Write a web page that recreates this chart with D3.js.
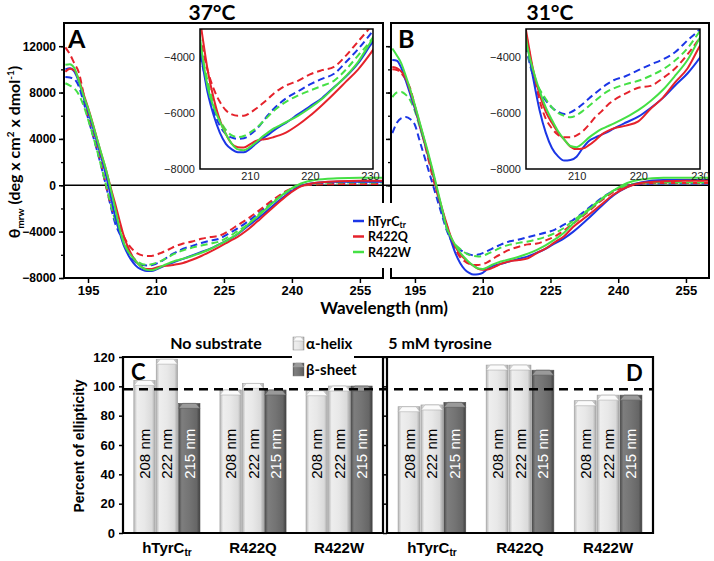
<!DOCTYPE html>
<html><head><meta charset="utf-8">
<script src="https://cdn.jsdelivr.net/npm/d3@7"></script>
<style>body{margin:0;background:#fff} svg{display:block}</style>
</head><body>
<svg id="c" width="714" height="561"></svg>
<script>
// ---------- DATA ----------
const wavelengths = [190,191,192,193,194,195,196,197,198,199,200,201,202,203,204,205,206,207,208,209,210,211,212,213,214,215,216,218,220,222,224,226,228,230,233,236,239,242,245,250,255,260];
// 37 °C (panel A)
const A_solid_hTyrC = [10000,10100,9800,8900,7600,6400,5100,3700,2300,800,-900,-2700,-4100,-5300,-6100,-6700,-7100,-7300,-7400,-7400,-7280,-7100,-6930,-6780,-6620,-6480,-6350,-6050,-5760,-5470,-5080,-4700,-4230,-3600,-2700,-1700,-750,-50,200,300,300,300];
const A_solid_R422Q = [9800,10050,9900,9100,7900,6700,5400,4000,2600,1300,-200,-1600,-3100,-4500,-5500,-6250,-6750,-7100,-7220,-7230,-7120,-7000,-6950,-6920,-6860,-6790,-6700,-6430,-6100,-5720,-5310,-4880,-4450,-3900,-2900,-1850,-850,-100,200,350,400,400];
const A_solid_R422W = [10400,10450,10100,9000,7750,6650,5350,4000,2650,1300,-300,-2000,-3800,-5100,-5800,-6300,-6750,-7100,-7300,-7330,-7220,-7050,-6860,-6700,-6550,-6440,-6330,-6100,-5820,-5500,-5100,-4680,-4180,-3500,-2500,-1450,-500,150,450,600,650,650];
const A_dashed_hTyrC = [9350,9300,9150,8500,7200,5800,4400,3000,1500,-100,-1800,-3300,-4200,-5100,-5950,-6450,-6750,-6880,-6920,-6900,-6780,-6600,-6350,-6080,-5850,-5650,-5480,-5230,-4980,-4780,-4600,-4180,-3720,-3200,-2300,-1350,-550,-50,100,150,150,150];
const A_dashed_R422Q = [11900,11300,10500,9700,7900,6000,4600,3200,1700,-100,-1600,-2800,-3600,-4500,-5150,-5600,-5900,-6050,-6100,-6100,-6000,-5850,-5680,-5500,-5300,-5150,-5020,-4850,-4620,-4470,-4350,-3950,-3450,-2950,-2100,-1200,-450,-50,50,100,100,100];
const A_dashed_R422W = [8800,8600,8350,7800,6900,5700,4400,3000,1500,0,-1600,-3000,-3900,-4900,-5700,-6250,-6600,-6800,-6860,-6820,-6700,-6550,-6350,-6130,-5920,-5750,-5600,-5380,-5200,-5030,-4850,-4450,-3950,-3450,-2400,-1400,-550,-50,150,250,250,250];
// 31 °C (panel B)
const B_solid_hTyrC = [10800,10750,10100,9000,7800,6600,5300,3900,2500,1000,-600,-2300,-3550,-4800,-5900,-6700,-7250,-7550,-7700,-7680,-7560,-7250,-7000,-6880,-6780,-6680,-6560,-6340,-6130,-5820,-5460,-5010,-4580,-4020,-3000,-1900,-850,-150,250,450,450,450];
const B_solid_R422Q = [10200,10100,9800,9200,8100,6800,5400,4000,2500,1000,-600,-2000,-3300,-4500,-5330,-5950,-6350,-6700,-6950,-7200,-7290,-7270,-7150,-6980,-6780,-6650,-6550,-6450,-6300,-5850,-5450,-4900,-4400,-3600,-2700,-1750,-800,-150,200,350,400,400];
const B_solid_R422W = [11800,11200,10500,9400,8200,6900,5500,4100,2700,1200,-400,-2000,-3600,-4500,-5200,-5800,-6250,-6650,-6950,-7180,-7220,-7080,-6880,-6720,-6580,-6480,-6380,-6160,-5900,-5570,-5170,-4660,-4100,-3300,-2300,-1300,-450,200,500,650,650,650];
const B_dashed_hTyrC = [4500,5400,5800,5900,5700,5200,3900,2600,1300,0,-1300,-2600,-3850,-4700,-5200,-5550,-5800,-5960,-6040,-5980,-5850,-5680,-5480,-5300,-5120,-4960,-4830,-4680,-4470,-4270,-4080,-3820,-3400,-3000,-2100,-1200,-450,-50,100,150,150,150];
const B_dashed_R422Q = [10000,9950,9650,9100,8300,6800,5200,3800,2200,600,-800,-2100,-3400,-4600,-5550,-6200,-6550,-6780,-6870,-6870,-6800,-6650,-6420,-6150,-5950,-5720,-5550,-5300,-5100,-5030,-4750,-4400,-3900,-3310,-2400,-1400,-550,-50,150,200,200,200];
const B_dashed_R422W = [7600,8000,8050,7800,7300,6400,5100,3800,2400,900,-700,-2300,-3700,-4700,-5150,-5500,-5800,-6000,-6100,-6150,-6080,-5930,-5750,-5570,-5380,-5230,-5120,-4970,-4850,-4670,-4440,-4120,-3680,-3070,-2200,-1250,-450,0,200,250,250,250];

const cdXTicks = [195,210,225,240,255];
const cdYTicks = [-8000,-4000,0,4000,8000,12000];
const cdYMinor = [-8000,-6000,-4000,-2000,0,2000,4000,6000,8000,10000,12000];
const insetXTicks = [210,220,230];
const insetYTicks = [-8000,-6000,-4000];

// bar charts
const groups = ["hTyrC","R422Q","R422W"];
const bands = ["208 nm","222 nm","215 nm"];
const bandType = ["helix","helix","sheet"];
const C_208 = [104, 97.5, 97];
const C_222 = [118.5, 102, 100.2];
const C_215 = [88.4, 97.5, 100.2];
const D_208 = [86.1, 114.5, 90.2];
const D_222 = [87.3, 114.5, 94];
const D_215 = [89.1, 111, 94];
const barYTicks = [0,20,40,60,80,100,120];
const refLevel = 98;

// ---------- STYLE ----------
const colors = {hTyrC:"#1b36e6", R422Q:"#e5222b", R422W:"#45e045"};
const calibri = "Lato, 'Open Sans', sans-serif";
const arial = "'Liberation Sans', Arial, sans-serif";

const svg = d3.select("#c");
const defs = svg.append("defs");

const y = d3.scaleLinear([-8000, 14000], [278, 23]);
const insetY = d3.scaleLinear([-8000, -3000], [169, 29]);

const panels = [
  {key:"A", title:"37°C", xr:[64,383], titleX:212, labelX:68, labels:true,
   solid:{hTyrC:A_solid_hTyrC,R422Q:A_solid_R422Q,R422W:A_solid_R422W},
   dashed:{hTyrC:A_dashed_hTyrC,R422Q:A_dashed_R422Q,R422W:A_dashed_R422W},
   inset:{xr:[200,373], dom:[201.7,230.5]}},
  {key:"B", title:"31°C", xr:[391,709], titleX:550, labelX:398, labels:false,
   solid:{hTyrC:B_solid_hTyrC,R422Q:B_solid_R422Q,R422W:B_solid_R422W},
   dashed:{hTyrC:B_dashed_hTyrC,R422Q:B_dashed_R422Q,R422W:B_dashed_R422W},
   inset:{xr:[526,700], dom:[201.8,230]}}
];

function drawSeries(g, xs, ys, p, width) {
  const line = d3.line().x(d => xs(d[0])).y(d => ys(d[1])).curve(d3.curveMonotoneX);
  ["dashed","solid"].forEach(kind => {
    ["hTyrC","R422Q","R422W"].forEach(v => {
      const pts = wavelengths.map((w,i) => [w, p[kind][v][i]]);
      g.append("path").attr("d", line(pts)).attr("fill","none")
        .attr("stroke", colors[v]).attr("stroke-width", width)
        .attr("stroke-dasharray", kind === "dashed" ? "7,4" : null);
    });
  });
}

// zero line across both panels
svg.append("line").attr("x1",64).attr("x2",709).attr("y1",y(0)).attr("y2",y(0))
  .attr("stroke","#000").attr("stroke-width",1.6);

panels.forEach((p, pi) => {
  const x = d3.scaleLinear([189.7, 260.1], p.xr);
  defs.append("clipPath").attr("id","clip"+p.key).append("rect")
    .attr("x",p.xr[0]).attr("y",23).attr("width",p.xr[1]-p.xr[0]).attr("height",255);
  const cg = svg.append("g").attr("clip-path","url(#clip"+p.key+")");
  drawSeries(cg, x, y, p, 2);

  // x axis
  const xa = svg.append("g").attr("transform","translate(0,278)")
    .call(d3.axisBottom(x).tickValues(cdXTicks).tickSize(5).tickPadding(3));
  xa.select(".domain").remove();
  xa.selectAll("line").attr("stroke","#000").attr("stroke-width",1.5);
  xa.selectAll("text").attr("font-family",arial).attr("font-weight","bold").attr("font-size",13).attr("fill","#000");

  // y axis
  const yv = p.labels ? cdYMinor : cdYMinor.filter(v => v >= 0);
  const ya1 = svg.append("g").attr("transform",`translate(${p.xr[0]},0)`)
    .call(d3.axisLeft(y).tickValues(yv).tickSize(3).tickFormat(""));
  ya1.select(".domain").remove();
  ya1.selectAll("text").remove();
  ya1.selectAll("line").attr("stroke","#000").attr("stroke-width",1.3);
  const ya2 = svg.append("g").attr("transform",`translate(${p.xr[0]},0)`)
    .call(d3.axisLeft(y).tickValues(p.labels ? cdYTicks : cdYTicks.filter(v=>v>=0)).tickSize(5).tickPadding(3).tickFormat(d3.format("d")));
  ya2.select(".domain").remove();
  ya2.selectAll("line").attr("stroke","#000").attr("stroke-width",1.5);
  if (p.labels) {
    ya2.selectAll("text").attr("font-family",arial).attr("font-weight","bold").attr("font-size",12).attr("fill","#000");
  } else {
    ya2.selectAll("text").remove();
  }

  // borders
  const bl = (x1,y1,x2,y2) => svg.append("line").attr("x1",x1).attr("y1",y1).attr("x2",x2).attr("y2",y2)
      .attr("stroke","#000").attr("stroke-width",2);
  bl(p.xr[0],23,p.xr[1],23);
  bl(p.xr[0],278,p.xr[1],278);
  if (pi === 0) {
    bl(64,22,64,279); bl(383,22,383,203); bl(383,268,383,279);
  } else {
    bl(391,22,391,203); bl(391,268,391,279); bl(709,22,709,279);
  }

  // inset
  const ix = d3.scaleLinear(p.inset.dom, p.inset.xr);
  const iw = p.inset.xr[1]-p.inset.xr[0];
  svg.append("rect").attr("x",p.inset.xr[0]).attr("y",29).attr("width",iw).attr("height",140).attr("fill","#fff");
  defs.append("clipPath").attr("id","iclip"+p.key).append("rect")
    .attr("x",p.inset.xr[0]).attr("y",29).attr("width",iw).attr("height",140);
  const ig = svg.append("g").attr("clip-path","url(#iclip"+p.key+")");
  drawSeries(ig, ix, insetY, p, 2);
  svg.append("rect").attr("x",p.inset.xr[0]).attr("y",29).attr("width",iw).attr("height",140)
    .attr("fill","none").attr("stroke","#000").attr("stroke-width",1.5);
  const iya = svg.append("g").attr("transform",`translate(${p.inset.xr[0]},0)`)
    .call(d3.axisLeft(insetY).tickValues(insetYTicks).tickSize(0).tickPadding(5).tickFormat(d3.format("d")));
  iya.select(".domain").remove();
  iya.selectAll("text").attr("font-family",arial).attr("font-size",11).attr("fill","#222");
  const ixa = svg.append("g").attr("transform","translate(0,168)")
    .call(d3.axisBottom(ix).tickValues(insetXTicks).tickSize(0).tickPadding(4));
  ixa.select(".domain").remove();
  ixa.selectAll("text").attr("font-family",arial).attr("font-size",11).attr("fill","#222");

  // titles
  svg.append("text").attr("x",p.titleX).attr("y",20).attr("text-anchor","middle")
    .attr("font-family",calibri).attr("font-weight","bold").attr("font-size",21).text(p.title);
  svg.append("text").attr("x",p.labelX).attr("y",48)
    .attr("font-family",calibri).attr("font-weight","bold").attr("font-size",25).text(p.key);
});

// y-axis title
const yt = svg.append("text").attr("transform","translate(20,152) rotate(-90)").attr("text-anchor","middle")
  .attr("font-family",calibri).attr("font-weight","bold").attr("font-size",16);
yt.append("tspan").text("θ");
yt.append("tspan").attr("font-size",10).attr("dy",4).text("mrw");
yt.append("tspan").attr("dy",-4).text(" (deg x cm");
yt.append("tspan").attr("font-size",10).attr("dy",-6).text("2");
yt.append("tspan").attr("dy",6).text(" x dmol");
yt.append("tspan").attr("font-size",10).attr("dy",-6).text("-1");
yt.append("tspan").attr("dy",6).text(")");

svg.append("text").attr("x",384).attr("y",314).attr("text-anchor","middle")
  .attr("font-family",calibri).attr("font-weight","bold").attr("font-size",17).text("Wavelength (nm)");

// legend (top)
["hTyrC","R422Q","R422W"].forEach((v,i) => {
  const ly = 221 + i*15.5;
  svg.append("line").attr("x1",353).attr("x2",364).attr("y1",ly).attr("y2",ly)
    .attr("stroke",colors[v]).attr("stroke-width",2.5);
  const t = svg.append("text").attr("x",368).attr("y",ly+4.5)
    .attr("font-family",calibri).attr("font-weight","bold").attr("font-size",12.5);
  if (v === "hTyrC") {
    t.append("tspan").text("hTyrC");
    t.append("tspan").attr("font-size",8.5).attr("dy",2).text("tr");
  } else t.text(v);
});

// ---------- BAR CHARTS ----------
function grad(id, stops) {
  const g = defs.append("linearGradient").attr("id",id).attr("x1","0").attr("x2","1").attr("y1","0").attr("y2","0");
  stops.forEach(s => g.append("stop").attr("offset",s[0]).attr("stop-color",s[1]));
}
grad("gLight", [[0,"#b4b4b4"],[0.15,"#eeeeee"],[0.5,"#e8e8e8"],[0.85,"#dadada"],[1,"#a6a6a6"]]);
grad("gDark", [[0,"#4a4a4a"],[0.15,"#7e7e7e"],[0.5,"#747474"],[0.85,"#666666"],[1,"#3e3e3e"]]);

const yBar = d3.scaleLinear([0,120],[533,357]);

function drawBarPanel(xr, vals) {
  const xg = d3.scaleBand(groups, xr).paddingInner(0.22).paddingOuter(0.12);
  const xs = d3.scaleBand(bands, [0, xg.bandwidth()]);
  groups.forEach((gname, gi) => {
    bands.forEach((b, bi) => {
      const v = vals[bi][gi];
      const x0 = xg(gname) + xs(b) + 0.5, w = xs.bandwidth() - 1;
      const top = yBar(v);
      const dark = bandType[bi] === "sheet";
      svg.append("rect").attr("x",x0).attr("y",top).attr("width",w).attr("height",yBar(0)-top)
        .attr("fill", dark ? "url(#gDark)" : "url(#gLight)")
        .attr("stroke", dark ? "#555" : "#a0a0a0").attr("stroke-width",0.6);
      svg.append("polygon")
        .attr("points",`${x0},${top+5} ${x0+4},${top} ${x0+w-4},${top} ${x0+w},${top+5}`)
        .attr("fill", dark ? "#9a9a9a" : "#fbfbfb").attr("stroke", dark ? "#5a5a5a" : "#b0b0b0").attr("stroke-width",0.6);
      const cx = x0 + w/2;
      svg.append("text").attr("transform",`translate(${cx+5.5},${yBar(54)}) rotate(-90)`)
        .attr("text-anchor","middle").attr("font-family",arial).attr("font-size",15)
        .attr("fill", dark ? "#fff" : "#000").text(b);
    });
    const lt = svg.append("text").attr("x", xg(gname)+xg.bandwidth()/2).attr("y",553)
      .attr("text-anchor","middle").attr("font-family",arial).attr("font-weight","bold").attr("font-size",15);
    if (gname === "hTyrC") {
      lt.append("tspan").text("hTyrC");
      lt.append("tspan").attr("font-size",10).attr("dy",3).text("tr");
    } else lt.text(gname);
  });
  return xg;
}
drawBarPanel([123,383], [C_208, C_222, C_215]);
drawBarPanel([387,653], [D_208, D_222, D_215]);

// axes for bars
const cya = svg.append("g").attr("transform","translate(123,0)")
  .call(d3.axisLeft(yBar).tickValues(barYTicks).tickSize(4).tickPadding(4));
cya.select(".domain").remove();
cya.selectAll("line").attr("stroke","#000").attr("stroke-width",1.5);
cya.selectAll("text").attr("font-family",arial).attr("font-weight","bold").attr("font-size",13).attr("fill","#000");
const dya = svg.append("g").attr("transform","translate(387,0)")
  .call(d3.axisLeft(yBar).tickValues(barYTicks).tickSize(4));
dya.select(".domain").remove();
dya.selectAll("text").remove();
dya.selectAll("line").attr("stroke","#000").attr("stroke-width",1.5);

const bl2 = (x1,y1,x2,y2) => svg.append("line").attr("x1",x1).attr("y1",y1).attr("x2",x2).attr("y2",y2)
    .attr("stroke","#000").attr("stroke-width",2.2);
bl2(123,356,123,534); bl2(122,533,384,533); bl2(383,356,383,534);
bl2(387,356,387,534); bl2(386,533,654,533); bl2(653,356,653,534);
bl2(122,357,292,357); bl2(354,357,654,357);

// reference line
svg.append("line").attr("x1",124).attr("x2",653).attr("y1",yBar(refLevel)).attr("y2",yBar(refLevel))
  .attr("stroke","#000").attr("stroke-width",2.5).attr("stroke-dasharray","9,6");

svg.append("text").attr("transform","translate(84,446) rotate(-90)").attr("text-anchor","middle")
  .attr("font-family",arial).attr("font-weight","bold").attr("font-size",14).text("Percent of ellipticity");

svg.append("text").attr("x",216).attr("y",349).attr("text-anchor","middle")
  .attr("font-family",calibri).attr("font-weight","bold").attr("font-size",16).text("No substrate");
svg.append("text").attr("x",440).attr("y",349).attr("text-anchor","middle")
  .attr("font-family",calibri).attr("font-weight","bold").attr("font-size",16).text("5 mM tyrosine");
svg.append("text").attr("x",131).attr("y",380)
  .attr("font-family",calibri).attr("font-weight","bold").attr("font-size",22).text("C");
svg.append("text").attr("x",626).attr("y",381)
  .attr("font-family",calibri).attr("font-weight","bold").attr("font-size",22).text("D");

// bar legend
[["α-helix","gLight","#fbfbfb",337],["β-sheet","gDark","#9a9a9a",363]].forEach(l => {
  svg.append("rect").attr("x",293).attr("y",l[3]).attr("width",11).attr("height",13)
    .attr("fill","url(#"+l[1]+")").attr("stroke","#888").attr("stroke-width",0.5);
  svg.append("polygon").attr("points",`293,${l[3]+4} 296,${l[3]} 301,${l[3]} 304,${l[3]+4}`)
    .attr("fill",l[2]).attr("stroke","#999").attr("stroke-width",0.4);
  svg.append("text").attr("x",306).attr("y",l[3]+12)
    .attr("font-family",calibri).attr("font-weight","bold").attr("font-size",15).text(l[0]);
});
</script></body></html>
